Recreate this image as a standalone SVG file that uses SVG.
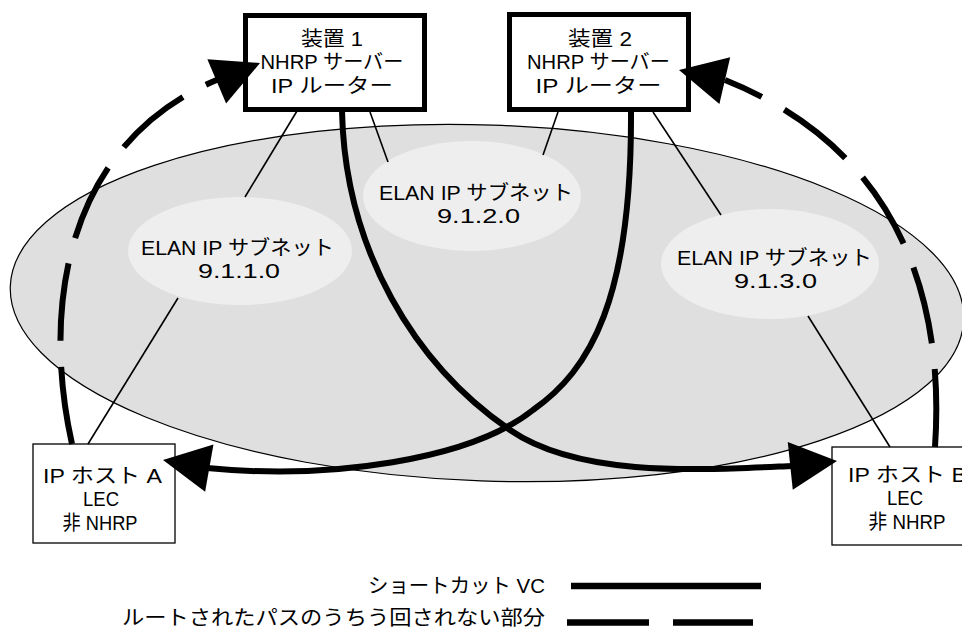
<svg xmlns="http://www.w3.org/2000/svg" xmlns:xlink="http://www.w3.org/1999/xlink" width="962" height="630" viewBox="0 0 962 630">
<style>
text{font-family:"Liberation Sans","Noto Sans CJK JP",sans-serif;font-size:20.5px;fill:#000;text-anchor:middle}
.lg{text-anchor:end}
.dev{fill:#fff;stroke:#000;stroke-width:5}
.host{fill:#fff;stroke:#000;stroke-width:1.3}
.sub{fill:#eeeeee;stroke:none}
.thin{stroke:#000;stroke-width:1.6;fill:none}
.vc{stroke:#000;stroke-width:6;fill:none}
.rt{stroke:#000;stroke-width:6;fill:none;stroke-dasharray:78 26}
</style>
<defs>
<path id="ah" d="M0,0 L-47,-24 L-47,24 Z" fill="#000"/>
</defs>
<rect width="962" height="630" fill="#fff"/>
<g id="elan-network">
<ellipse cx="487" cy="303" rx="477" ry="178" transform="rotate(2 487 303)" fill="#dfdfdf" stroke="#000" stroke-width="1.2"/>
</g>
<g id="subnet1">
<ellipse class="sub" cx="240" cy="251" rx="112" ry="54"/>
<text x="237.5" y="255" textLength="193" lengthAdjust="spacingAndGlyphs">ELAN IP サブネット</text>
<text x="239" y="278" textLength="82" lengthAdjust="spacingAndGlyphs">9.1.1.0</text>
</g>
<g id="subnet2">
<ellipse class="sub" cx="472" cy="196" rx="109" ry="55"/>
<text x="476" y="200" textLength="194" lengthAdjust="spacingAndGlyphs">ELAN IP サブネット</text>
<text x="478.5" y="223" textLength="83" lengthAdjust="spacingAndGlyphs">9.1.2.0</text>
</g>
<g id="subnet3">
<ellipse class="sub" cx="770" cy="264" rx="109" ry="55"/>
<text x="774.5" y="265" textLength="195" lengthAdjust="spacingAndGlyphs">ELAN IP サブネット</text>
<text x="775.5" y="288" textLength="83" lengthAdjust="spacingAndGlyphs">9.1.3.0</text>
</g>
<g id="device1">
<rect class="dev" x="245.5" y="15.5" width="179" height="94"/>
<text x="332" y="46" textLength="62" lengthAdjust="spacingAndGlyphs">装置 1</text>
<text x="332" y="69" textLength="143" lengthAdjust="spacingAndGlyphs">NHRP サーバー</text>
<text x="332" y="93" textLength="122" lengthAdjust="spacingAndGlyphs">IP ルーター</text>
</g>
<g id="device2">
<rect class="dev" x="509.5" y="14.5" width="179" height="95"/>
<text x="600" y="46" textLength="64" lengthAdjust="spacingAndGlyphs">装置 2</text>
<text x="598.5" y="69" textLength="143" lengthAdjust="spacingAndGlyphs">NHRP サーバー</text>
<text x="598.5" y="93" textLength="126" lengthAdjust="spacingAndGlyphs">IP ルーター</text>
</g>
<g id="hostA">
<rect class="host" x="33" y="444" width="142" height="99"/>
<text x="102.5" y="483" textLength="119" lengthAdjust="spacingAndGlyphs">IP ホスト A</text>
<text x="101" y="506" textLength="36" lengthAdjust="spacingAndGlyphs">LEC</text>
<text x="100" y="530" textLength="75" lengthAdjust="spacingAndGlyphs">非 NHRP</text>
</g>
<g id="hostB">
<rect class="host" x="832" y="447" width="146" height="98"/>
<text x="907.5" y="482" textLength="119" lengthAdjust="spacingAndGlyphs">IP ホスト B</text>
<text x="905" y="505" textLength="36" lengthAdjust="spacingAndGlyphs">LEC</text>
<text x="907" y="529" textLength="77" lengthAdjust="spacingAndGlyphs">非 NHRP</text>
</g>
<g id="connectors">
<line class="thin" x1="297" y1="111" x2="245" y2="197"/>
<line class="thin" x1="178" y1="298" x2="88" y2="444"/>
<line class="thin" x1="370" y1="112" x2="388" y2="162"/>
<line class="thin" x1="558" y1="112" x2="543" y2="155"/>
<line class="thin" x1="653" y1="112" x2="721" y2="215"/>
<line class="thin" x1="808" y1="316" x2="890" y2="447"/>
<path class="vc" d="M342,111 C345,250 415,365 510,430 C580,478 700,470 793,466"/>
<path class="vc" d="M631,111 C632,300 590,370 533,410 C470,460 330,480 207,468"/>
<path class="rt" d="M72,444 C40,300 70,140 219,79"/>
<path class="rt" d="M935,447 C945,300 900,150 725,80"/>
<use xlink:href="#ah" transform="translate(163,460) rotate(190)"/>
<use xlink:href="#ah" transform="translate(837,461) rotate(-6)"/>
<use xlink:href="#ah" transform="translate(260,63) rotate(-23)"/>
<use xlink:href="#ah" transform="translate(679,70) rotate(193)"/>
</g>
<g id="legend">
<text class="lg" x="545" y="593" textLength="177" lengthAdjust="spacingAndGlyphs">ショートカット VC</text>
<line x1="571" y1="586" x2="761" y2="586" stroke="#000" stroke-width="6.5"/>
<text class="lg" x="545" y="625" textLength="423" lengthAdjust="spacingAndGlyphs">ルートされたパスのうちう回されない部分</text>
<line x1="567" y1="622.5" x2="753" y2="622.5" stroke="#000" stroke-width="6.5" stroke-dasharray="82 24"/>
</g>
</svg>
